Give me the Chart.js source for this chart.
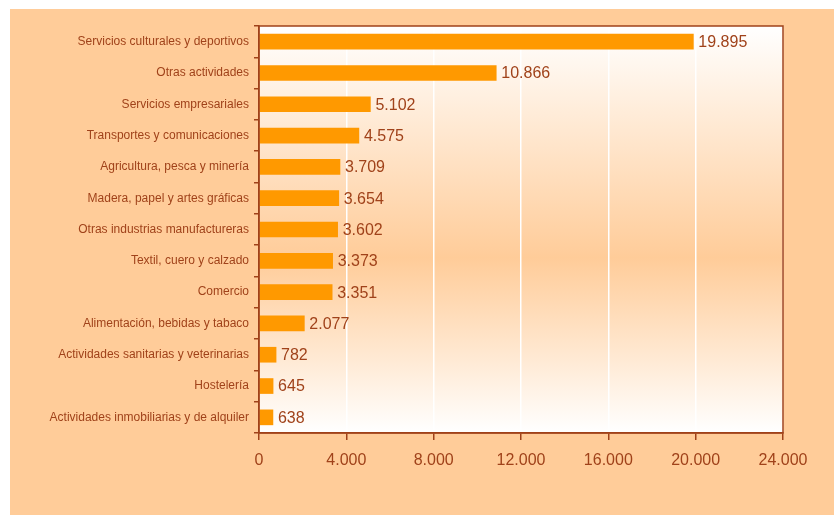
<!DOCTYPE html>
<html>
<head>
<meta charset="utf-8">
<script src="https://cdn.jsdelivr.net/npm/chart.js@4/dist/chart.umd.min.js"></script>
<style>
  html, body { margin: 0; padding: 0; background: #fff; }
  #wrap { width: 834px; height: 515px; }
</style>
</head>
<body>
<div id="wrap"><canvas id="myChart" width="834" height="515"></canvas></div>
<script>
const categories = [
  "Servicios culturales y deportivos",
  "Otras actividades",
  "Servicios empresariales",
  "Transportes y comunicaciones",
  "Agricultura, pesca y minería",
  "Madera, papel y artes gráficas",
  "Otras industrias manufactureras",
  "Textil, cuero y calzado",
  "Comercio",
  "Alimentación, bebidas y tabaco",
  "Actividades sanitarias y veterinarias",
  "Hostelería",
  "Actividades inmobiliarias y de alquiler"
]
const values = [19895, 10866, 5102, 4575, 3709, 3654, 3602, 3373, 3351, 2077, 782, 645, 638]
const xmin = 0
const xmax = 24000
const xstep = 4000

const brown = "#A0421A"
const peach = "#FFCC99"

// miles con punto: 19895 -> 19.895
function fmt(v) {
  return String(Math.round(v)).replace(/\B(?=(\d{3})+(?!\d))/g, ".")
}

const backdrop = {
  id: "backdrop",
  beforeDraw(chart) {
    const ctx = chart.ctx
    const a = chart.chartArea
    ctx.save()
    ctx.fillStyle = peach
    ctx.fillRect(10, 9, chart.width - 10, chart.height - 9)
    const g = ctx.createLinearGradient(0, a.top, 0, a.bottom)
    g.addColorStop(0, "#FFFFFF")
    g.addColorStop(0.57, "#FFCC99")
    g.addColorStop(1, "#FFFFFF")
    ctx.fillStyle = g
    ctx.fillRect(a.left, a.top, a.right - a.left, a.bottom - a.top)
    ctx.restore()
  },
  afterDraw(chart) {
    const ctx = chart.ctx
    const a = chart.chartArea
    ctx.save()
    ctx.strokeStyle = brown
    ctx.lineWidth = 1.5
    ctx.strokeRect(a.left, a.top, a.right - a.left, a.bottom - a.top)
    ctx.restore()
  }
}

const valueLabels = {
  id: "valueLabels",
  afterDatasetsDraw(chart) {
    const ctx = chart.ctx
    const meta = chart.getDatasetMeta(0)
    ctx.save()
    ctx.font = "16px 'Liberation Sans', Arial, sans-serif"
    ctx.fillStyle = brown
    ctx.textBaseline = "middle"
    ctx.textAlign = "left"
    meta.data.forEach((bar, i) => {
      ctx.fillText(fmt(values[i]), bar.x + 5, bar.y + 1)
    })
    ctx.restore()
  }
}

new Chart("myChart", {
  type: "bar",
  data: {
    labels: categories,
    datasets: [{
      data: values,
      backgroundColor: "#FF9900",
      borderWidth: 0,
      barThickness: 15
    }]
  },
  plugins: [backdrop, valueLabels],
  options: {
    indexAxis: "y",
    responsive: false,
    animation: false,
    layout: { padding: { top: 26, right: 51, left: 0, bottom: 0 } },
    plugins: {
      legend: { display: false },
      tooltip: { enabled: false }
    },
    scales: {
      x: {
        min: xmin,
        max: xmax,
        ticks: {
          stepSize: xstep,
          color: brown,
          font: { family: "'Liberation Sans', Arial, sans-serif", size: 16 },
          padding: 11,
          callback: v => fmt(v)
        },
        grid: {
          color: "#FFFFFF",
          lineWidth: 1.5,
          tickColor: brown,
          tickLength: 7
        },
        border: { color: brown, width: 1.5 },
        afterFit(scale) { scale.height = 82 }
      },
      y: {
        ticks: {
          color: brown,
          font: { family: "'Liberation Sans', Arial, sans-serif", size: 12 },
          padding: 5,
          autoSkip: false
        },
        grid: {
          drawOnChartArea: false,
          color: brown,
          tickLength: 5,
          lineWidth: 1.5
        },
        border: { color: brown, width: 1.5 },
        afterFit(scale) { scale.width = 259 }
      }
    }
  }
})
</script>
</body>
</html>
